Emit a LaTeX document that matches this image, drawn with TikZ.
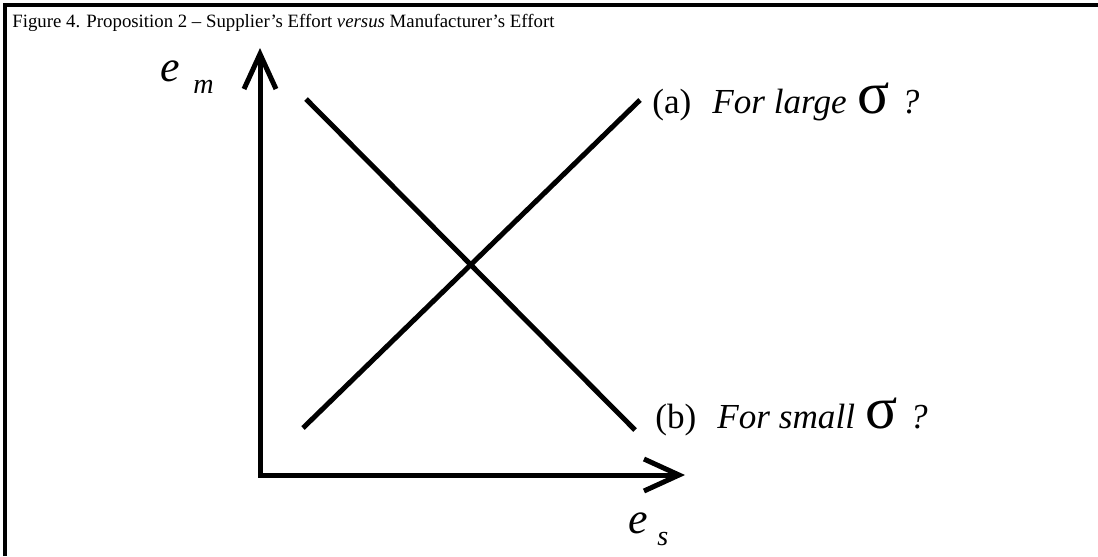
\documentclass[tikz,border=0pt]{standalone}
\usepackage{fontspec}
\setmainfont{Liberation Serif}
\newfontfamily\grk{Liberation Serif}
\usetikzlibrary{arrows.meta,positioning,calc}
\tikzset{
  % thick black strokes, open barbed tips on the axes
  axis/.style  = {line width=1mm, line join=miter,
                  {Straight Barb[length=7mm,width=6.4mm]}-{Straight Barb[length=7mm,width=6.4mm]}},
  resp/.style  = {line width=1mm},
  frame/.style = {line width=0.9mm, line join=miter},
  caption/.style = {font=\fontsize{10.7}{12}\selectfont, anchor=base west, inner sep=0pt},
  lbl/.style   = {font=\fontsize{20}{24}\selectfont, anchor=base west, inner sep=0pt},
  var/.style   = {font=\fontsize{25}{30}\selectfont\itshape, anchor=base west, inner sep=0pt},
  sub/.style   = {font=\fontsize{16}{19}\selectfont\itshape, anchor=base west, inner sep=0pt},
}
\newcommand{\sig}{{\grk\fontsize{34}{36}\selectfont σ}}

\begin{document}
\begin{tikzpicture}[x=0.02cm,y=-0.02cm]
\useasboundingbox (0,0) rectangle (1098,556);
% --- frame and caption ---------------------------------------------------
\coordinate (fbl) at (5,556);
\coordinate (ftl) at (5,5);
\coordinate (ftr) at (1098,5);
\draw[frame] (fbl) -- (ftl) -- (ftr);
\node[caption] (figcap) at (12,27)
      {Figure 4. Proposition 2 -- Supplier’s Effort \textit{versus} Manufacturer’s Effort};
% --- axes ------------------------------------------------------------------
\coordinate (orig) at (260,475);
\coordinate (ytop) at (260,48);
\coordinate (xend) at (685,475);
\draw[axis] (ytop) -- (orig) -- (xend);
\node[var] (em)    at (160,81)  {e};
\node[sub] (emsub) at (193,93)  {m};
\node[var] (es)    at (628,533) {e};
\node[sub] (essub) at (657,545) {s};
% --- the two lines ---------------------------------------------------------
\coordinate (aLo) at (303,428);
\coordinate (aHi) at (640,100);
\coordinate (bHi) at (306,99);
\coordinate (bLo) at (635,430);
\draw[resp] (aLo) -- (aHi);
\draw[resp] (bHi) -- (bLo);
% --- labels ----------------------------------------------------------------
\node[lbl] (la) at (652,113) {(a)\hspace{0.6em}\textit{For large}\hspace{0.3em}\sig\hspace{0.35em}\textit{?}};
\node[lbl] (lb) at (655,428) {(b)\hspace{0.6em}\textit{For small}\hspace{0.3em}\sig\hspace{0.35em}\textit{?}};
\end{tikzpicture}
\end{document}
